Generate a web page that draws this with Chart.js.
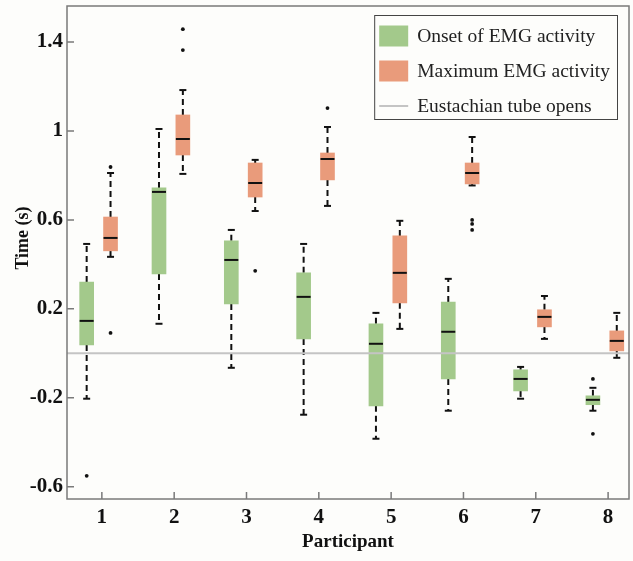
<!DOCTYPE html>
<html>
<head>
<meta charset="utf-8">
<script src="https://cdn.jsdelivr.net/npm/chart.js@4.4.0/dist/chart.umd.min.js"></script>
<style>
    html, body { margin: 0; padding: 0; background: #fdfdfb; }
    #wrap { width: 633px; height: 561px; }
</style>
</head>
<body>
<div id="wrap"><canvas id="boxChart" width="633" height="561"></canvas></div>
<script>
// data //
var participants = [1, 2, 3, 4, 5, 6, 7, 8];
var yTicks = [-0.6, -0.2, 0.2, 0.6, 1, 1.4];
var seriesNames = ['Onset of EMG activity', 'Maximum EMG activity', 'Eustachian tube opens'];
var xTitle = 'Participant';
var yTitle = 'Time (s)';

// onset of EMG activity
var onsetLow = [-0.204, 0.133, -0.065, -0.276, -0.384, -0.258, -0.204, -0.258];
var onsetQ1 = [0.038, 0.357, 0.222, 0.065, -0.236, -0.115, -0.169, -0.231];
var onsetMedian = [0.146, 0.726, 0.420, 0.254, 0.043, 0.097, -0.115, -0.209];
var onsetQ3 = [0.321, 0.744, 0.506, 0.362, 0.133, 0.231, -0.074, -0.191];
var onsetHigh = [0.492, 1.009, 0.555, 0.492, 0.182, 0.335, -0.061, -0.155];
var onsetOutliers = [[-0.551], [], [], [], [], [], [], [-0.115, -0.362]];

// maximum EMG activity
var maxLow = [0.434, 0.807, 0.640, 0.663, 0.110, 0.755, 0.065, -0.020];
var maxQ1 = [0.461, 0.892, 0.703, 0.780, 0.227, 0.762, 0.119, 0.011];
var maxMedian = [0.519, 0.964, 0.766, 0.874, 0.362, 0.811, 0.164, 0.056];
var maxQ3 = [0.613, 1.072, 0.856, 0.901, 0.528, 0.856, 0.196, 0.101];
var maxHigh = [0.811, 1.184, 0.870, 1.018, 0.596, 0.973, 0.258, 0.182];
var maxOutliers = [[0.838, 0.092], [1.458, 1.364], [0.371], [1.103], [], [0.600, 0.582, 0.555], [], []];

var tubeOpens = 0;

var green = '#a3c98b';
var orange = '#e99b7b';
var onsetShift = -0.21;
var maxShift = 0.12;
var boxWidth = 14;

function boxData(q1, q3, shift) {
    return participants.map(function (p, i) {
        return { x: p + shift, y: [q1[i], q3[i]] };
    });
}

function outlierData() {
    var pts = [];
    participants.forEach(function (p, i) {
        onsetOutliers[i].forEach(function (v) { pts.push({ x: p + onsetShift, y: v }); });
        maxOutliers[i].forEach(function (v) { pts.push({ x: p + maxShift, y: v }); });
    });
    return pts;
}

var serif = '"Liberation Serif", "Times New Roman", serif';

// whiskers, medians, frame, ticks and legend //
var boxPlugin = {
    id: 'boxExtras',
    beforeDraw: function (chart) {
        var ctx = chart.ctx;
        ctx.save();
        ctx.fillStyle = '#fdfdfb';
        ctx.fillRect(0, 0, chart.width, chart.height);
        ctx.restore();
    },
    beforeDatasetsDraw: function (chart) {
        var ctx = chart.ctx, xs = chart.scales.x, ys = chart.scales.y;
        ctx.save();
        ctx.strokeStyle = '#111';
        ctx.lineWidth = 2;
        function whisker(x, from, to) {
            var px = xs.getPixelForValue(x);
            ctx.setLineDash([6, 4]);
            ctx.beginPath();
            ctx.moveTo(px, ys.getPixelForValue(from));
            ctx.lineTo(px, ys.getPixelForValue(to));
            ctx.stroke();
            ctx.setLineDash([]);
            ctx.beginPath();
            ctx.moveTo(px - 3.5, ys.getPixelForValue(to));
            ctx.lineTo(px + 3.5, ys.getPixelForValue(to));
            ctx.stroke();
        }
        participants.forEach(function (p, i) {
            whisker(p + onsetShift, onsetQ3[i], onsetHigh[i]);
            whisker(p + onsetShift, onsetQ1[i], onsetLow[i]);
            whisker(p + maxShift, maxQ3[i], maxHigh[i]);
            whisker(p + maxShift, maxQ1[i], maxLow[i]);
        });
        ctx.restore();
    },
    afterDatasetsDraw: function (chart) {
        var ctx = chart.ctx, xs = chart.scales.x, ys = chart.scales.y, a = chart.chartArea;
        ctx.save();
        // medians
        ctx.strokeStyle = '#111';
        ctx.lineWidth = 2;
        participants.forEach(function (p, i) {
            [[p + onsetShift, onsetMedian[i]], [p + maxShift, maxMedian[i]]].forEach(function (m) {
                var px = xs.getPixelForValue(m[0]), py = ys.getPixelForValue(m[1]);
                ctx.beginPath();
                ctx.moveTo(px - boxWidth / 2, py);
                ctx.lineTo(px + boxWidth / 2, py);
                ctx.stroke();
            });
        });
        // eustachian tube line
        ctx.strokeStyle = '#c4c4c4';
        ctx.lineWidth = 2;
        var zy = ys.getPixelForValue(tubeOpens);
        ctx.beginPath();
        ctx.moveTo(a.left, zy);
        ctx.lineTo(a.right, zy);
        ctx.stroke();
        // frame and inward ticks
        ctx.strokeStyle = '#7a7a7a';
        ctx.lineWidth = 1.5;
        ctx.strokeRect(a.left, a.top, a.right - a.left, a.bottom - a.top);
        ctx.beginPath();
        participants.forEach(function (p) {
            var px = xs.getPixelForValue(p);
            ctx.moveTo(px, a.bottom);
            ctx.lineTo(px, a.bottom - 7);
        });
        yTicks.forEach(function (v) {
            var py = ys.getPixelForValue(v);
            ctx.moveTo(a.left, py);
            ctx.lineTo(a.left + 7, py);
        });
        ctx.stroke();
        // y title
        ctx.save();
        ctx.translate(23, 238);
        ctx.rotate(-Math.PI / 2);
        ctx.font = 'bold 18px ' + serif;
        ctx.fillStyle = '#111';
        ctx.textAlign = 'center';
        ctx.textBaseline = 'middle';
        ctx.fillText(yTitle, 0, 0);
        ctx.restore();
        // legend
        ctx.font = '19.5px ' + serif;
        var textW = 0;
        seriesNames.forEach(function (n) { textW = Math.max(textW, ctx.measureText(n).width); });
        var lw = 43 + textW + 7, lh = 104;
        var lx = a.right - 12 - lw, ly = a.top + 9;
        ctx.fillStyle = '#fdfdfb';
        ctx.fillRect(lx, ly, lw, lh);
        ctx.strokeStyle = '#444';
        ctx.lineWidth = 1;
        ctx.strokeRect(lx + 0.5, ly + 0.5, lw, lh);
        var colors = [green, orange];
        ctx.textBaseline = 'middle';
        seriesNames.forEach(function (n, i) {
            var cy = ly + 21 + i * 35;
            if (i < 2) {
                ctx.fillStyle = colors[i];
                ctx.fillRect(lx + 5, cy - 10.5, 29, 21);
            } else {
                ctx.strokeStyle = '#c4c4c4';
                ctx.lineWidth = 2;
                ctx.beginPath();
                ctx.moveTo(lx + 5, cy);
                ctx.lineTo(lx + 34, cy);
                ctx.stroke();
            }
            ctx.fillStyle = '#222';
            ctx.fillText(n, lx + 43, cy + 1);
        });
        ctx.restore();
    }
};

var ctx = document.getElementById('boxChart').getContext('2d');
var boxChart = new Chart(ctx, {
    type: 'bar',
    data: {
        datasets: [{
            label: seriesNames[0],
            data: boxData(onsetQ1, onsetQ3, onsetShift),
            backgroundColor: green,
            borderWidth: 0,
            barThickness: boxWidth,
            grouped: false
        }, {
            label: seriesNames[1],
            data: boxData(maxQ1, maxQ3, maxShift),
            backgroundColor: orange,
            borderWidth: 0,
            barThickness: boxWidth,
            grouped: false
        }, {
            type: 'scatter',
            label: 'outliers',
            data: outlierData(),
            backgroundColor: '#111',
            borderWidth: 0,
            pointRadius: 1.9
        }]
    },
    options: {
        responsive: false,
        animation: false,
        devicePixelRatio: 1,
        layout: { padding: { top: 6, right: 2, left: 0, bottom: 0 } },
        plugins: {
            legend: { display: false },
            tooltip: { enabled: false }
        },
        scales: {
            x: {
                type: 'linear',
                offset: false,
                min: 0.518,
                max: 8.289,
                afterBuildTicks: function (s) {
                    s.ticks = participants.map(function (v) { return { value: v }; });
                },
                afterFit: function (s) {
                    s.height = 62;
                    s.paddingLeft = 0;
                    s.paddingRight = 0;
                },
                grid: { display: false, drawTicks: false, tickLength: 0 },
                border: { display: false },
                ticks: {
                    padding: 6,
                    color: '#111',
                    font: { family: serif, size: 21, weight: 'bold' },
                    callback: function (v) { return String(v); }
                },
                title: {
                    display: true,
                    text: xTitle,
                    color: '#111',
                    padding: { top: 2, bottom: 8 },
                    font: { family: serif, size: 19, weight: 'bold' }
                }
            },
            y: {
                min: -0.655,
                max: 1.562,
                afterBuildTicks: function (s) {
                    s.ticks = yTicks.map(function (v) { return { value: v }; });
                },
                afterFit: function (s) {
                    s.width = 67;
                    s.paddingTop = 0;
                    s.paddingBottom = 0;
                },
                grid: { display: false, drawTicks: false, tickLength: 0 },
                border: { display: false },
                ticks: {
                    padding: 4,
                    color: '#111',
                    font: { family: serif, size: 21, weight: 'bold' },
                    callback: function (v) { return String(v); }
                }
            }
        }
    },
    plugins: [boxPlugin]
});
</script>
</body>
</html>
